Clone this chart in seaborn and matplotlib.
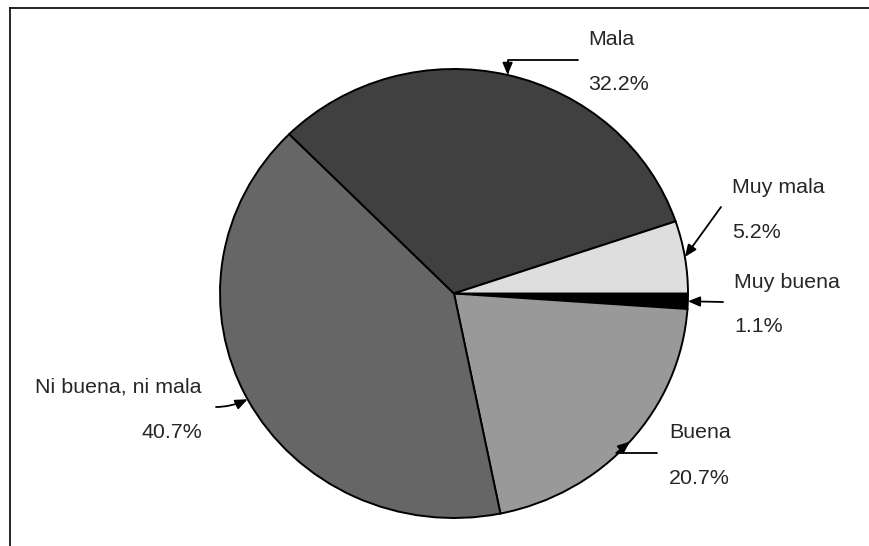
import numpy as np
import matplotlib
matplotlib.use("Agg")
import matplotlib.pyplot as plt
import seaborn as sns

# Datos (orden horario empezando en 0 grados)
categorias = ["Muy buena", "Buena", "Ni buena, ni mala", "Mala", "Muy mala"]
porcentajes = [1.1, 20.7, 40.7, 32.2, 5.2]
colores = ["#000000", "#999999", "#666666", "#404040", "#dedede"]

sns.set_theme(style="white")
plt.rcParams['font.family'] = ['Liberation Sans', 'DejaVu Sans']

W, H = 870, 546
fig = plt.figure(figsize=(W / 100, H / 100), dpi=100)

# marco (solo arriba e izquierda)
marco = fig.add_axes([10 / W, 0, 1 - 10 / W, (H - 8) / H])
marco.set_xticks([])
marco.set_yticks([])
marco.patch.set_alpha(0)
for lado in ['right', 'bottom']:
    marco.spines[lado].set_visible(False)
for lado in ['top', 'left']:
    marco.spines[lado].set_color('black')
    marco.spines[lado].set_linewidth(1.2)

# pastel (ligeramente eliptico como el original)
ax = fig.add_axes([220 / W, (H - 518) / H, 468 / W, 449 / H])
wedges, _ = ax.pie(porcentajes, colors=colores, startangle=0, counterclock=False,
                   wedgeprops=dict(edgecolor='black', linewidth=1.4))
ax.set_aspect('auto')
ax.set_xlim(-1, 1)
ax.set_ylim(-1, 1)
ax.axis('off')

# posicion de las etiquetas en pixeles: (x, y medio, alineacion, x de la cola de la flecha, conexion)
etiquetas = {
    "Mala": (588, 59.5, 'left', 578, "angle,angleA=0,angleB=90,rad=0"),
    "Muy mala": (732, 207, 'left', 721, "arc3,rad=0"),
    "Muy buena": (734, 302, 'left', 723, "arc3,rad=0"),
    "Buena": (669, 453, 'left', 657, "angle,angleA=0,angleB=40,rad=0"),
    "Ni buena, ni mala": (202, 407, 'right', 216, "angle3,angleA=0,angleB=25"),
}

for w, nombre, pct in zip(wedges, categorias, porcentajes):
    x, ym, ha, xcola, con = etiquetas[nombre]
    ang = np.deg2rad((w.theta1 + w.theta2) / 2)
    fig.text(x / W, 1 - (ym - 14.5) / H, nombre, ha=ha, va='baseline', fontsize=15.4)
    fig.text(x / W, 1 - (ym + 30.5) / H, f"{pct:.1f}%", ha=ha, va='baseline', fontsize=15.4)
    ax.annotate("", xy=(np.cos(ang), np.sin(ang)), xycoords='data',
                xytext=(xcola, H - ym), textcoords='figure pixels',
                arrowprops=dict(arrowstyle="-|>,head_length=0.6,head_width=0.25",
                                color='black', lw=1.3, connectionstyle=con,
                                shrinkA=0, shrinkB=0),
                annotation_clip=False)

fig.savefig("out.png", dpi=100)
